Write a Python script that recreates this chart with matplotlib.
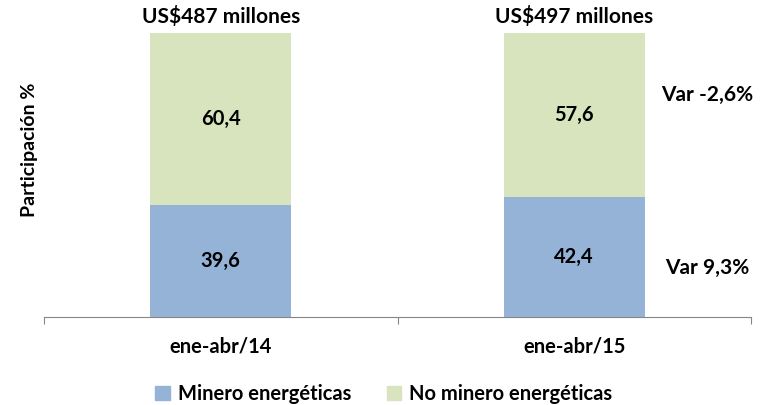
import matplotlib
matplotlib.use("Agg")
import matplotlib.pyplot as plt
from matplotlib.patches import Patch

categories = ["ene-abr/14", "ene-abr/15"]
minero = [39.6, 42.4]
no_minero = [60.4, 57.6]
totals = ["US$487 millones", "US$497 millones"]
var_labels = {"minero": "Var 9,3%", "no_minero": "Var -2,6%"}

c_blue = "#95B3D7"
c_green = "#D7E4BD"
FONT = "Lato"

fig = plt.figure(figsize=(7.73, 4.05), dpi=100)
ax = fig.add_axes([44/773, (405-317)/405, (751-44)/773, (317-33)/405])

x = list(range(len(categories)))
w = 0.4
ax.bar(x, minero, width=w, color=c_blue, zorder=2)
ax.bar(x, no_minero, width=w, bottom=minero, color=c_green, zorder=2)

fmt = lambda v: f"{v:.1f}".replace(".", ",")
for i in x:
    ax.text(i, minero[i] / 2, fmt(minero[i]), ha="center", va="center",
            fontsize=14.5, fontweight="bold", family=FONT)
    ax.text(i, minero[i] + no_minero[i] / 2, fmt(no_minero[i]), ha="center", va="center",
            fontsize=14.5, fontweight="bold", family=FONT)
    ax.text(i, minero[i] + no_minero[i] + 2.0, totals[i], ha="center", va="bottom",
            fontsize=15, fontweight="bold", family=FONT, clip_on=False)

last = x[-1]
ax.text(last + 0.376, minero[last] * 0.41, var_labels["minero"], ha="center", va="center",
        fontsize=15, fontweight="bold", family=FONT, clip_on=False)
ax.text(last + 0.376, minero[last] + no_minero[last] * 0.62, var_labels["no_minero"], ha="center", va="center",
        fontsize=15, fontweight="bold", family=FONT, clip_on=False)

ax.set_xlim(-0.5, len(categories) - 0.5)
ax.set_ylim(0, 100)
for s in ["top", "right", "left"]:
    ax.spines[s].set_visible(False)
ax.spines["bottom"].set_color("#868686")
ax.set_yticks([])

ax.set_xticks([i - 0.5 for i in range(len(categories) + 1)])
ax.set_xticklabels([])
ax.tick_params(axis="x", which="major", length=5, color="#868686", direction="out")
ax.set_xticks(x, minor=True)
ax.set_xticklabels(categories, minor=True)
ax.tick_params(axis="x", which="minor", length=0, pad=14, labelsize=14.5)
for lbl in ax.get_xticklabels(minor=True):
    lbl.set_fontweight("bold")
    lbl.set_family(FONT)

fig.text(30/773, 1 - 150/405, "Participación %", rotation=90, ha="center", va="center",
         fontsize=14, fontweight="bold", family=FONT)

handles = [Patch(color=c_blue), Patch(color=c_green)]
fig.legend(handles, ["Minero energéticas", "No minero energéticas"], loc="center",
           bbox_to_anchor=(384/773, 1 - 394/405), ncol=2, frameon=False,
           prop={"family": FONT, "weight": "bold", "size": 14.5},
           handlelength=0.7, handleheight=0.7, handletextpad=0.4, columnspacing=1.8)

fig.savefig("out.png", dpi=100)
